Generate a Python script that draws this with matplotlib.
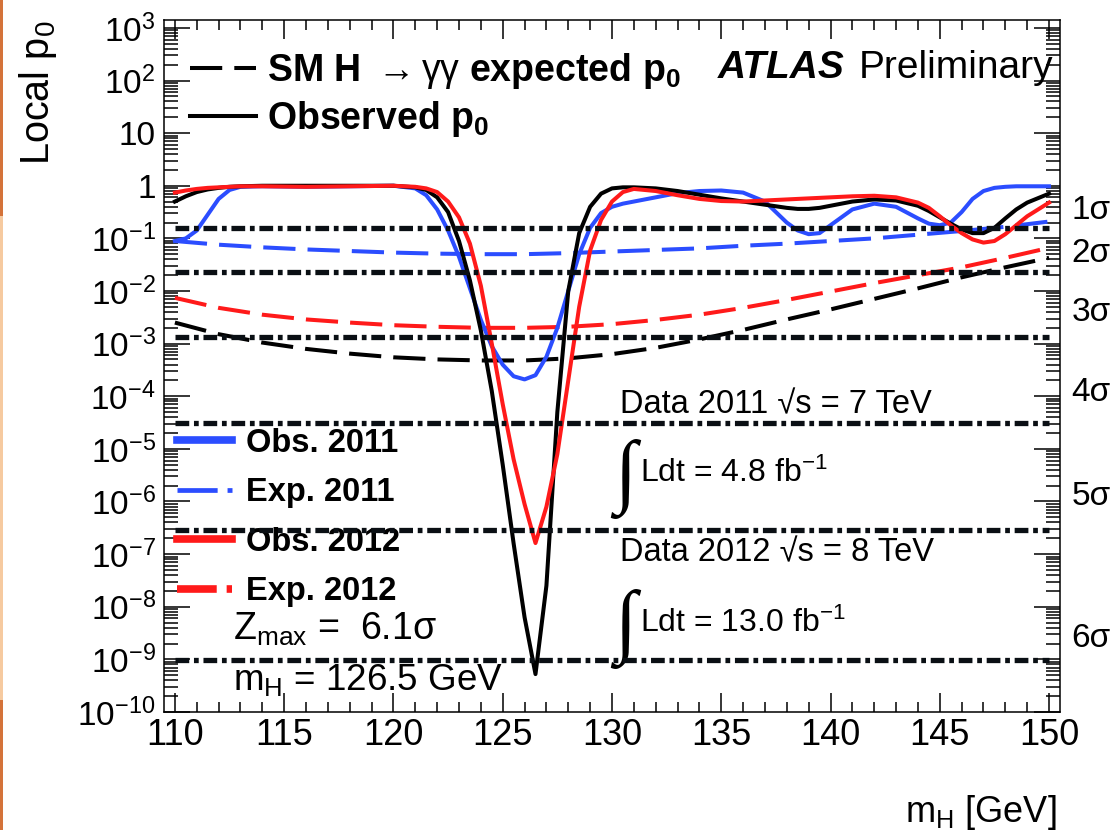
import matplotlib

matplotlib.use("Agg")
import matplotlib.pyplot as plt
from matplotlib.lines import Line2D
from matplotlib.patches import Rectangle
from matplotlib.ticker import FixedLocator, LogLocator, MultipleLocator, NullFormatter
import numpy as np

plt.rcParams["font.family"] = ["Liberation Sans", "DejaVu Sans"]
plt.rcParams["mathtext.fontset"] = "custom"
plt.rcParams["mathtext.rm"] = "Liberation Sans"
plt.rcParams["mathtext.it"] = "Liberation Sans:italic"
plt.rcParams["mathtext.bf"] = "Liberation Sans:bold"

BLUE = "#2b4dff"
RED = "#ff1a1a"

# expected local p0 (log10) on a 2 GeV grid
mass_exp = [110, 112, 114, 116, 118, 120, 122, 124, 126, 128, 130,
            132, 134, 136, 138, 140, 142, 144, 146, 148, 150]
exp_comb_log = [-2.60, -2.82, -2.98, -3.10, -3.19, -3.26, -3.30, -3.32, -3.32, -3.28, -3.20,
                -3.08, -2.92, -2.74, -2.54, -2.35, -2.15, -1.95, -1.74, -1.55, -1.37]
exp_2012_log = [-2.13, -2.32, -2.45, -2.54, -2.60, -2.65, -2.68, -2.70, -2.70, -2.68, -2.63,
                -2.55, -2.45, -2.32, -2.17, -2.01, -1.85, -1.70, -1.55, -1.37, -1.18]
exp_2011_log = [-1.05, -1.12, -1.17, -1.21, -1.24, -1.27, -1.29, -1.30, -1.30, -1.28, -1.25,
                -1.22, -1.19, -1.14, -1.10, -1.05, -1.00, -0.93, -0.86, -0.78, -0.68]

# observed local p0 (log10)
mass_obs = [110, 110.5, 111, 111.5, 112, 112.5, 113, 114, 116, 118, 120,
            121, 121.5, 122, 122.5, 123, 123.5, 124, 124.5, 125, 125.5,
            126, 126.5, 127, 127.5, 128, 128.5, 129, 129.5, 130, 130.5,
            131, 132, 133, 134, 135, 136, 137, 137.5, 138, 138.5,
            139, 139.5, 140, 141, 142, 143, 144, 144.5, 145, 145.5,
            146, 146.5, 147, 147.5, 148, 148.5, 149, 150]
obs_comb_log = [-0.30, -0.20, -0.12, -0.07, -0.04, -0.02, -0.01, 0.0, 0.0, 0.0, 0.0,
                -0.03, -0.08, -0.22, -0.50, -1.05, -1.80, -2.75, -3.90, -5.30, -6.80,
                -8.20, -9.28, -7.60, -4.30, -2.00, -0.90, -0.40, -0.15, -0.05, -0.03,
                -0.03, -0.05, -0.10, -0.17, -0.24, -0.30, -0.36, -0.39, -0.42, -0.44,
                -0.44, -0.42, -0.38, -0.30, -0.26, -0.28, -0.38, -0.48, -0.60, -0.72,
                -0.83, -0.90, -0.90, -0.80, -0.62, -0.45, -0.32, -0.15]
obs_2012_log = [-0.13, -0.09, -0.06, -0.04, -0.03, -0.02, -0.01, -0.01, -0.02, -0.01, 0.0,
                -0.02, -0.05, -0.12, -0.30, -0.60, -1.10, -1.90, -3.00, -4.15, -5.20,
                -6.05, -6.79, -6.10, -5.10, -3.70, -2.30, -1.23, -0.65, -0.30, -0.12,
                -0.06, -0.10, -0.18, -0.25, -0.29, -0.30, -0.28, -0.27, -0.26, -0.25,
                -0.24, -0.23, -0.22, -0.20, -0.19, -0.22, -0.32, -0.42, -0.58, -0.75,
                -0.90, -1.02, -1.08, -1.05, -0.92, -0.75, -0.58, -0.32]
obs_2011_log = [-1.05, -1.00, -0.85, -0.55, -0.25, -0.08, -0.02, -0.01, -0.02, -0.01, 0.0,
                -0.05, -0.18, -0.45, -0.85, -1.35, -1.95, -2.55, -3.05, -3.40, -3.62,
                -3.68, -3.60, -3.25, -2.70, -2.00, -1.30, -0.80, -0.52, -0.40, -0.34,
                -0.30, -0.22, -0.14, -0.10, -0.09, -0.13, -0.30, -0.50, -0.70, -0.85,
                -0.92, -0.90, -0.75, -0.45, -0.34, -0.40, -0.62, -0.72, -0.75, -0.70,
                -0.50, -0.25, -0.10, -0.04, -0.02, -0.01, -0.01, -0.01]

# one-sided p0 for 1..6 sigma
sigma_names = ["1σ", "2σ", "3σ", "4σ", "5σ", "6σ"]
sigma_p0 = [0.1587, 0.02275, 1.350e-3, 3.167e-5, 2.867e-7, 9.866e-10]
sigma_label_log = [-0.47, -1.29, -2.41, -3.93, -5.90, -8.60]

y_decades = list(range(-10, 4))
y_ticklabels = [r"$\mathregular{10^{%d}}$" % d for d in range(-10, 0)] + [
    "1", "10", r"$\mathregular{10^{2}}$", r"$\mathregular{10^{3}}$"]
x_ticks = [110, 115, 120, 125, 130, 135, 140, 145, 150]

fig = plt.figure(figsize=(11.14, 8.30), dpi=100)
ax = fig.add_axes([0.1472, 0.1422, 0.8043, 0.8337])

# orange page edge on the left
fig.add_artist(Rectangle((0, 0.74), 0.003, 0.26, transform=fig.transFigure,
                         color="#d4733a", lw=0))
fig.add_artist(Rectangle((0, 0.157), 0.003, 0.583, transform=fig.transFigure,
                         color="#f6caa0", lw=0))
fig.add_artist(Rectangle((0, 0), 0.003, 0.157, transform=fig.transFigure,
                         color="#d4733a", lw=0))

dashdot = (0, (2.6, 0.9, 0.9, 0.9))
for p in sigma_p0:
    ax.plot([mass_exp[0], mass_exp[-1]], [p, p], color="#0a0f14", lw=3.8,
            linestyle=dashdot, dash_capstyle="butt", zorder=4)

dashed = (0, (8, 3))
l_exp11, = ax.plot(mass_exp, 10 ** np.array(exp_2011_log), color=BLUE, lw=2.9,
                   linestyle=dashed, zorder=3)
l_exp12, = ax.plot(mass_exp, 10 ** np.array(exp_2012_log), color=RED, lw=2.9,
                   linestyle=dashed, zorder=3)
l_expc, = ax.plot(mass_exp, 10 ** np.array(exp_comb_log), color="black", lw=2.9,
                  linestyle=dashed, zorder=3)
l_obs11, = ax.plot(mass_obs, 10 ** np.array(obs_2011_log), color=BLUE, lw=2.9, zorder=3)
l_obsc, = ax.plot(mass_obs, 10 ** np.array(obs_comb_log), color="black", lw=2.9, zorder=3)
l_obs12, = ax.plot(mass_obs, 10 ** np.array(obs_2012_log), color=RED, lw=2.9, zorder=3)

ax.set_yscale("log")
ax.set_xlim(109.5, 150.5)
ax.set_ylim(1e-10, 10 ** 3.15)

ax.xaxis.set_major_locator(FixedLocator(x_ticks))
ax.xaxis.set_minor_locator(MultipleLocator(1))
ax.set_xticklabels([str(t) for t in x_ticks])
ax.yaxis.set_major_locator(FixedLocator([10.0 ** d for d in y_decades]))
ax.yaxis.set_minor_locator(LogLocator(base=10, subs=np.arange(2, 10), numticks=30))
ax.yaxis.set_minor_formatter(NullFormatter())
ax.set_yticklabels(y_ticklabels)

ax.tick_params(which="both", direction="in", top=True, right=True, width=1.1)
ax.tick_params(axis="x", which="major", length=14, labelsize=26, pad=4)
ax.tick_params(axis="x", which="minor", length=7)
ax.tick_params(axis="y", which="major", length=19, labelsize=24, pad=6)
ax.tick_params(axis="y", which="minor", length=10)
for s in ax.spines.values():
    s.set_linewidth(1.1)

for name, ly in zip(sigma_names, sigma_label_log):
    ax.text(1.013, 10 ** ly, name, transform=ax.get_yaxis_transform(),
            fontsize=24, va="center", ha="left", clip_on=False)

top_leg = ax.legend(
    [l_expc, l_obsc],
    [r"SM H $\rightarrow\mathrm{\gamma\gamma}$ expected p$_\mathbf{0}$",
     r"Observed p$_\mathbf{0}$"],
    loc="upper left", bbox_to_anchor=(0.029, 0.955), frameon=False,
    prop={"weight": "bold", "size": 27}, handlelength=1.75, handletextpad=0.3,
    labelspacing=0.2, borderpad=0, borderaxespad=0,
)
top_leg.set_zorder(2)
ax.add_artist(top_leg)

year_leg = ax.legend(
    [Line2D([], [], color=BLUE, lw=5.5),
     Line2D([], [], color=BLUE, lw=3.4, linestyle=(0, (8.5, 2.1, 1.5, 5))),
     Line2D([], [], color=RED, lw=5.5),
     Line2D([], [], color=RED, lw=5.5, linestyle=(0, (5.2, 1.3, 0.9, 3)))],
    ["Obs. 2011", "Exp. 2011", "Obs. 2012", "Exp. 2012"],
    loc="upper left", bbox_to_anchor=(0.0145, 0.411), frameon=False,
    prop={"weight": "bold", "size": 23.5}, handlelength=1.7, handletextpad=0.43,
    labelspacing=0.57, borderpad=0, borderaxespad=0,
)
year_leg.set_zorder(2)

ax.text(0.618, 0.931, "ATLAS", transform=ax.transAxes, fontsize=28,
        fontweight="bold", fontstyle="italic", va="center")
ax.text(0.775, 0.931, "Preliminary", transform=ax.transAxes, fontsize=28, va="center")

ax.text(0.509, 0.432, "Data 2011 √s = 7 TeV", transform=ax.transAxes,
        fontsize=23.5, va="baseline")
ax.text(0.531, 0.332, r"Ldt = 4.8 fb$^{\mathregular{-1}}$", transform=ax.transAxes,
        fontsize=23, va="baseline")
ax.text(0.509, 0.217, "Data 2012 √s = 8 TeV", transform=ax.transAxes,
        fontsize=23.5, va="baseline")
ax.text(0.531, 0.116, r"Ldt = 13.0 fb$^{\mathregular{-1}}$", transform=ax.transAxes,
        fontsize=23, va="baseline")
for yc in (0.337, 0.12):
    ax.text(0.515, yc, "∫", transform=ax.transAxes, fontsize=58, ha="center",
            va="center", family=["Liberation Serif", "DejaVu Serif"])

ax.text(0.077, 0.104, r"Z$_{\mathregular{max}}$ =  6.1σ", transform=ax.transAxes,
        fontsize=27, va="baseline")
ax.text(0.077, 0.032, r"m$_{\mathregular{H}}$ = 126.5 GeV", transform=ax.transAxes,
        fontsize=26.5, va="baseline")

fig.text(38 / 1114, 1 - 20 / 830, r"Local p$_{\mathregular{0}}$", rotation=90,
         fontsize=28.5, ha="center", va="top")
fig.text(1057 / 1114, 1 - 812 / 830, r"m$_{\mathregular{H}}$ [GeV]",
         fontsize=26, ha="right", va="center")

fig.savefig("out.png", dpi=100, facecolor="white")
